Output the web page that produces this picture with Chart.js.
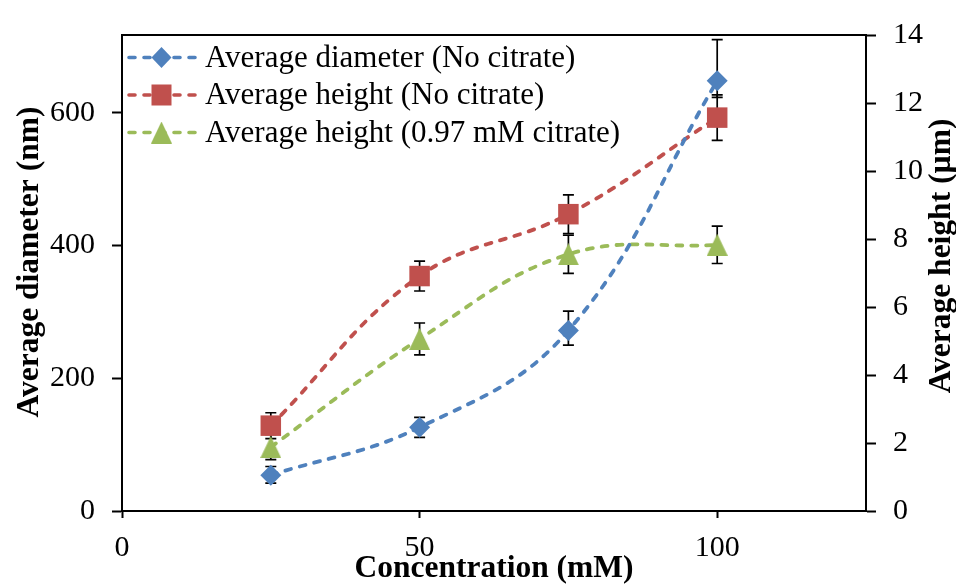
<!DOCTYPE html>
<html>
<head>
<meta charset="utf-8">
<script src="https://cdn.jsdelivr.net/npm/chart.js@4/dist/chart.umd.min.js"></script>
<style>
  html, body { margin: 0; padding: 0; background: #ffffff; }
  #wrap { width: 956px; height: 586px; position: relative; }
</style>
</head>
<body>
<div id="wrap"><canvas id="chart" width="956" height="586"></canvas></div>
<script>
// Concentration (mM)
const concentrations = [25, 50, 75, 100];

// Average diameter, no citrate (nm), with upper / lower error
const diameterNoCitrate = [54, 126, 272, 648];
const diameterErrPlus = [13, 15, 29, 62];
const diameterErrMinus = [12, 15, 22, 25];

// Average height, no citrate (µm)
const heightNoCitrate = [2.51, 6.91, 8.73, 11.57];
const heightNoCitrateErr = [0.38, 0.44, 0.57, 0.67];

// Average height, 0.97 mM citrate (µm)
const heightCitrate = [1.88, 5.06, 7.55, 7.83];
const heightCitrateErr = [0.37, 0.47, 0.56, 0.55];

// Tick labels
const xTicks = [0, 50, 100];
const leftTicks = [0, 200, 400, 600];
const rightTicks = [0, 2, 4, 6, 8, 10, 12, 14];

const seriesNames = [
  'Average diameter (No citrate)',
  'Average height (No citrate)',
  'Average height (0.97 mM citrate)'
];

const BLUE = '#4F81BD', RED = '#C0504D', GREEN = '#9BBB59';
const FONT = '"Liberation Serif", "Times New Roman", serif';
const DASH = [6, 9];

// Triangle marker with its box centred on the point
function triangleMarker(w, h, color) {
  const c = document.createElement('canvas');
  c.width = w; c.height = h;
  const g = c.getContext('2d');
  g.fillStyle = color;
  g.beginPath();
  g.moveTo(w / 2, 0);
  g.lineTo(w, h);
  g.lineTo(0, h);
  g.closePath();
  g.fill();
  return c;
}
const triImg = triangleMarker(21, 22, GREEN);

const toPoints = (ys) => concentrations.map((x, i) => ({ x: x, y: ys[i] }));

const errorData = [
  { plus: diameterErrPlus, minus: diameterErrMinus },
  { plus: heightNoCitrateErr, minus: heightNoCitrateErr },
  { plus: heightCitrateErr, minus: heightCitrateErr }
];

// Vertical error bars with caps, drawn beneath the markers
const errorBars = {
  id: 'errorBars',
  beforeDatasetsDraw(chart) {
    const ctx = chart.ctx;
    ctx.save();
    ctx.strokeStyle = '#000';
    ctx.lineWidth = 1.7;
    chart.data.datasets.forEach((ds, di) => {
      const meta = chart.getDatasetMeta(di);
      const ys = chart.scales[ds.yAxisID];
      const err = errorData[di];
      meta.data.forEach((pt, i) => {
        const v = ds.data[i].y;
        const yTop = ys.getPixelForValue(v + err.plus[i]);
        const yBot = ys.getPixelForValue(v - err.minus[i]);
        const x = pt.x;
        ctx.beginPath();
        ctx.moveTo(x, yTop); ctx.lineTo(x, yBot);
        ctx.moveTo(x - 5.5, yTop); ctx.lineTo(x + 5.5, yTop);
        ctx.moveTo(x - 5.5, yBot); ctx.lineTo(x + 5.5, yBot);
        ctx.stroke();
      });
    });
    ctx.restore();
  }
};

// Plot frame top edge, axis titles and legend
const decorations = {
  id: 'decorations',
  afterDraw(chart) {
    const ctx = chart.ctx;
    const a = chart.chartArea;
    ctx.save();
    ctx.strokeStyle = '#000';
    ctx.lineWidth = 2;
    ctx.beginPath();
    ctx.moveTo(a.left - 1, a.top);
    ctx.lineTo(a.right + 1, a.top);
    ctx.stroke();

    ctx.fillStyle = '#000';
    ctx.font = 'bold 31.5px ' + FONT;
    ctx.textAlign = 'center';
    ctx.textBaseline = 'alphabetic';
    ctx.fillText('Concentration (mM)', (a.left + a.right) / 2, 577);

    ctx.save();
    ctx.translate(38, 262);
    ctx.rotate(-Math.PI / 2);
    ctx.fillText('Average diameter (nm)', 0, 0);
    ctx.restore();

    ctx.save();
    ctx.translate(950, 256);
    ctx.rotate(-Math.PI / 2);
    ctx.fillText('Average height (\u00b5m)', 0, 0);
    ctx.restore();

    // legend
    const rows = [57.5, 95, 132.5];
    const lx0 = 129, lx1 = 197, mx = 161.5, tx = 205;
    chart.data.datasets.forEach((ds, i) => {
      const y = rows[i];
      ctx.save();
      ctx.strokeStyle = ds.borderColor;
      ctx.lineWidth = 3.6;
      ctx.lineCap = 'round';
      ctx.setLineDash(DASH);
      ctx.beginPath();
      ctx.moveTo(lx0, y); ctx.lineTo(lx1, y);
      ctx.stroke();
      ctx.restore();
      ctx.fillStyle = ds.backgroundColor;
      ctx.beginPath();
      if (i === 0) {
        ctx.moveTo(mx - 10, y); ctx.lineTo(mx, y - 10.5);
        ctx.lineTo(mx + 10, y); ctx.lineTo(mx, y + 10.5);
        ctx.closePath(); ctx.fill();
      } else if (i === 1) {
        ctx.fillRect(mx - 10, y - 10.5, 20, 21);
      } else {
        ctx.drawImage(triImg, mx - triImg.width / 2, y - triImg.height / 2);
      }
      ctx.fillStyle = '#000';
      ctx.font = '31px ' + FONT;
      ctx.textAlign = 'left';
      ctx.textBaseline = 'middle';
      ctx.fillText(seriesNames[i], tx, y + 1);
    });
    ctx.restore();
  }
};

const lineStyle = {
  borderWidth: 3.8,
  borderDash: DASH,
  borderCapStyle: 'round',
  tension: 0.4,
  fill: false,
  pointBorderWidth: 0,
  pointHoverRadius: 0
};

new Chart(document.getElementById('chart'), {
  type: 'line',
  data: {
    datasets: [
      Object.assign({}, lineStyle, {
        label: seriesNames[0],
        data: toPoints(diameterNoCitrate),
        yAxisID: 'yLeft',
        borderColor: BLUE,
        backgroundColor: BLUE,
        pointStyle: 'rectRot',
        pointRadius: 10.5
      }),
      Object.assign({}, lineStyle, {
        label: seriesNames[1],
        data: toPoints(heightNoCitrate),
        yAxisID: 'yRight',
        borderColor: RED,
        backgroundColor: RED,
        pointStyle: 'rect',
        pointRadius: 14.5
      }),
      Object.assign({}, lineStyle, {
        label: seriesNames[2],
        data: toPoints(heightCitrate),
        yAxisID: 'yRight',
        borderColor: GREEN,
        backgroundColor: GREEN,
        pointStyle: triImg,
        pointRadius: 11
      })
    ]
  },
  options: {
    responsive: false,
    animation: false,
    events: [],
    layout: { padding: { top: 32, left: 0, right: 0, bottom: 0 } },
    plugins: {
      legend: { display: false },
      tooltip: { enabled: false },
      title: { display: false }
    },
    scales: {
      x: {
        type: 'linear',
        position: 'bottom',
        min: 0,
        max: 125,
        afterFit(s) { s.height = 75; },
        afterBuildTicks(s) { s.ticks = xTicks.map(v => ({ value: v })); },
        border: { display: true, color: '#000', width: 2 },
        grid: { drawOnChartArea: false, drawTicks: true, tickLength: 7, tickWidth: 2, color: '#000' },
        ticks: { color: '#000', font: { family: FONT, size: 30 }, padding: 12, maxRotation: 0 }
      },
      yLeft: {
        type: 'linear',
        position: 'left',
        min: 0,
        max: 717,
        afterFit(s) { s.width = 122; },
        afterBuildTicks(s) { s.ticks = leftTicks.map(v => ({ value: v })); },
        border: { display: true, color: '#000', width: 2 },
        grid: { drawOnChartArea: false, drawTicks: true, tickLength: 10, tickWidth: 2, color: '#000' },
        ticks: { color: '#000', font: { family: FONT, size: 30 }, padding: 17 }
      },
      yRight: {
        type: 'linear',
        position: 'right',
        min: 0,
        max: 14,
        afterFit(s) { s.width = 90; },
        afterBuildTicks(s) { s.ticks = rightTicks.map(v => ({ value: v })); },
        border: { display: true, color: '#000', width: 2 },
        grid: { drawOnChartArea: false, drawTicks: true, tickLength: 10, tickWidth: 2, color: '#000' },
        ticks: { color: '#000', font: { family: FONT, size: 30 }, padding: 17 }
      }
    }
  },
  plugins: [errorBars, decorations]
});
</script>
</body>
</html>
